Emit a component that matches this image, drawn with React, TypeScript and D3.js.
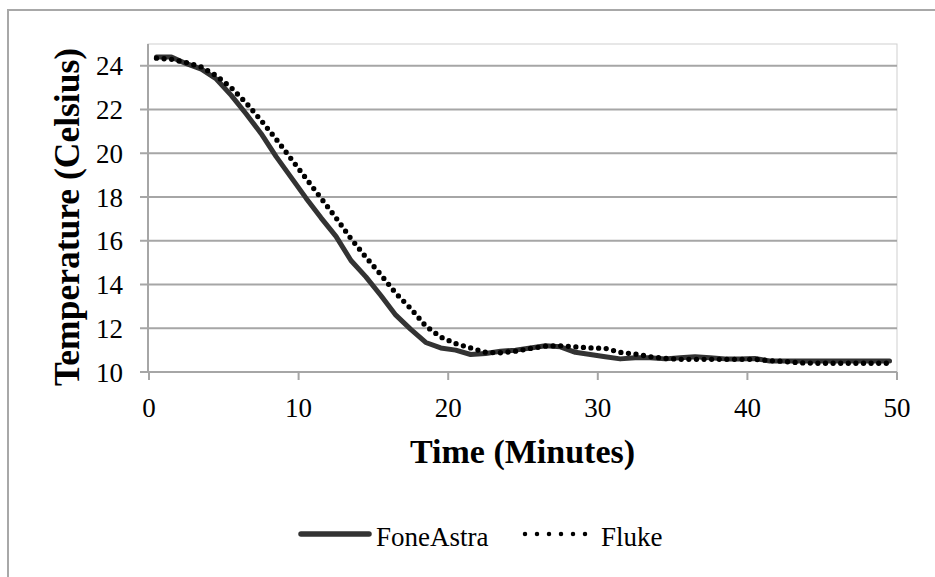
import { useEffect, useRef } from "react";
import * as d3 from "d3";

// minutes since start of the run
const minutes = [
  0.5, 1.5, 2.5, 3.5, 4.5, 5.5, 6.5, 7.5, 8.5, 9.5,
  10.5, 11.5, 12.5, 13.5, 14.5, 15.5, 16.5, 17.5, 18.5, 19.5,
  20.5, 21.5, 22.5, 23.5, 24.5, 25.5, 26.5, 27.5, 28.5, 29.5,
  30.5, 31.5, 32.5, 33.5, 34.5, 35.5, 36.5, 37.5, 38.5, 39.5,
  40.5, 41.5, 42.5, 43.5, 44.5, 45.5, 46.5, 47.5, 48.5, 49.5,
];

const foneAstra = [
  24.4, 24.4, 24.1, 23.85, 23.4, 22.65, 21.8, 20.9, 19.85, 18.9,
  17.95, 17.05, 16.2, 15.1, 14.35, 13.5, 12.6, 11.95, 11.35, 11.1,
  11.0, 10.8, 10.85, 10.95, 11.0, 11.1, 11.2, 11.15, 10.9, 10.8,
  10.7, 10.6, 10.65, 10.65, 10.6, 10.65, 10.7, 10.65, 10.6, 10.6,
  10.62, 10.5, 10.5, 10.5, 10.5, 10.5, 10.5, 10.5, 10.5, 10.5,
];

const fluke = [
  24.35, 24.3, 24.15, 23.95, 23.55, 23.0, 22.3, 21.5, 20.65, 19.75,
  18.85, 17.95, 17.05, 16.1, 15.25, 14.45, 13.6, 12.9, 12.1, 11.6,
  11.3, 11.1, 10.9, 10.88, 10.95, 11.08, 11.18, 11.2, 11.15, 11.1,
  11.08, 10.9, 10.82, 10.7, 10.62, 10.58, 10.58, 10.58, 10.58, 10.58,
  10.58, 10.52, 10.48, 10.42, 10.4, 10.4, 10.4, 10.4, 10.4, 10.4,
];

const xTicks = [0, 10, 20, 30, 40, 50];
const yTicks = [10, 12, 14, 16, 18, 20, 22, 24];

const FONT = "'Liberation Serif', 'Times New Roman', serif";

export default function App() {
  const ref = useRef<SVGSVGElement | null>(null);
  const width = 935;
  const height = 577;

  useEffect(() => {
    const svg = d3.select(ref.current);
    svg.selectAll("*").remove();

    /* -------- scaffold -------- */
    const m = { left: 148, top: 44, right: 897, bottom: 372 };
    const x = d3.scaleLinear().domain([0, 50]).range([m.left + 1, m.right]);
    const y = d3.scaleLinear().domain([10, 25]).range([m.bottom, m.top]);
    const grid = "#a6a6a6";

    // outer chart frame (only left / top edges are in view)
    svg.append("rect")
      .attr("x", 8).attr("y", 10)
      .attr("width", width + 20).attr("height", height + 20)
      .attr("fill", "#fff")
      .attr("stroke", "#a8a8a8")
      .attr("stroke-width", 2);

    // plot area border
    svg.append("rect")
      .attr("x", m.left).attr("y", m.top)
      .attr("width", m.right - m.left).attr("height", m.bottom - m.top)
      .attr("fill", "none")
      .attr("stroke", "#cfcfcf")
      .attr("stroke-width", 1);

    /* -------- gridlines + y axis -------- */
    svg.append("g")
      .selectAll("line")
      .data(yTicks)
      .join("line")
      .attr("x1", m.left - 8)
      .attr("x2", m.right)
      .attr("y1", (d) => y(d))
      .attr("y2", (d) => y(d))
      .attr("stroke", grid)
      .attr("stroke-width", 2);

    svg.append("g")
      .selectAll("text")
      .data(yTicks)
      .join("text")
      .attr("x", 123)
      .attr("y", (d) => y(d) + 9.5)
      .attr("text-anchor", "end")
      .attr("font-family", FONT)
      .attr("font-size", 27)
      .attr("fill", "#000")
      .text((d) => d);

    svg.append("line")
      .attr("x1", m.left).attr("x2", m.left)
      .attr("y1", m.top).attr("y2", m.bottom)
      .attr("stroke", grid).attr("stroke-width", 2);

    /* -------- x axis -------- */
    svg.append("line")
      .attr("x1", m.left).attr("x2", m.right)
      .attr("y1", m.bottom).attr("y2", m.bottom)
      .attr("stroke", grid).attr("stroke-width", 2);

    svg.append("g")
      .selectAll("line")
      .data(xTicks)
      .join("line")
      .attr("x1", (d) => x(d))
      .attr("x2", (d) => x(d))
      .attr("y1", m.bottom)
      .attr("y2", m.bottom + 8)
      .attr("stroke", grid)
      .attr("stroke-width", 2);

    svg.append("g")
      .selectAll("text")
      .data(xTicks)
      .join("text")
      .attr("x", (d) => x(d))
      .attr("y", 417)
      .attr("text-anchor", "middle")
      .attr("font-family", FONT)
      .attr("font-size", 27)
      .attr("fill", "#000")
      .text((d) => d);

    /* -------- axis titles -------- */
    svg.append("text")
      .attr("x", (m.left + m.right) / 2)
      .attr("y", 463)
      .attr("text-anchor", "middle")
      .attr("font-family", FONT)
      .attr("font-weight", "bold")
      .attr("font-size", 34)
      .text("Time (Minutes)");

    svg.append("text")
      .attr("transform", `translate(79,217) rotate(-90)`)
      .attr("text-anchor", "middle")
      .attr("font-family", FONT)
      .attr("font-weight", "bold")
      .attr("font-size", 35.5)
      .text("Temperature (Celsius)");

    /* -------- series -------- */
    const line = d3.line<number>()
      .x((_, i) => x(minutes[i]))
      .y((d) => y(d))
      .curve(d3.curveLinear);

    svg.append("path")
      .datum(foneAstra)
      .attr("d", line)
      .attr("fill", "none")
      .attr("stroke", "#333333")
      .attr("stroke-width", 5)
      .attr("stroke-linejoin", "round")
      .attr("stroke-linecap", "round");

    svg.append("path")
      .datum(fluke)
      .attr("d", line)
      .attr("fill", "none")
      .attr("stroke", "#000")
      .attr("stroke-width", 5.3)
      .attr("stroke-dasharray", "0,7.6")
      .attr("stroke-linecap", "round");

    /* -------- legend -------- */
    const ly = 534;
    svg.append("line")
      .attr("x1", 301).attr("x2", 369)
      .attr("y1", ly).attr("y2", ly)
      .attr("stroke", "#333333")
      .attr("stroke-width", 5.5)
      .attr("stroke-linecap", "round");
    svg.append("text")
      .attr("x", 376).attr("y", 546)
      .attr("font-family", FONT)
      .attr("font-size", 27)
      .text("FoneAstra");

    svg.append("line")
      .attr("x1", 525).attr("x2", 586)
      .attr("y1", ly).attr("y2", ly)
      .attr("stroke", "#000")
      .attr("stroke-width", 4.5)
      .attr("stroke-dasharray", "0,12")
      .attr("stroke-linecap", "round");
    svg.append("text")
      .attr("x", 601).attr("y", 546)
      .attr("font-family", FONT)
      .attr("font-size", 27)
      .text("Fluke");
  }, []);

  return (
    <svg
      ref={ref}
      width={width}
      height={height}
      viewBox={`0 0 ${width} ${height}`}
      style={{ position: "absolute", left: 0, top: 0, background: "#fff" }}
    />
  );
}
